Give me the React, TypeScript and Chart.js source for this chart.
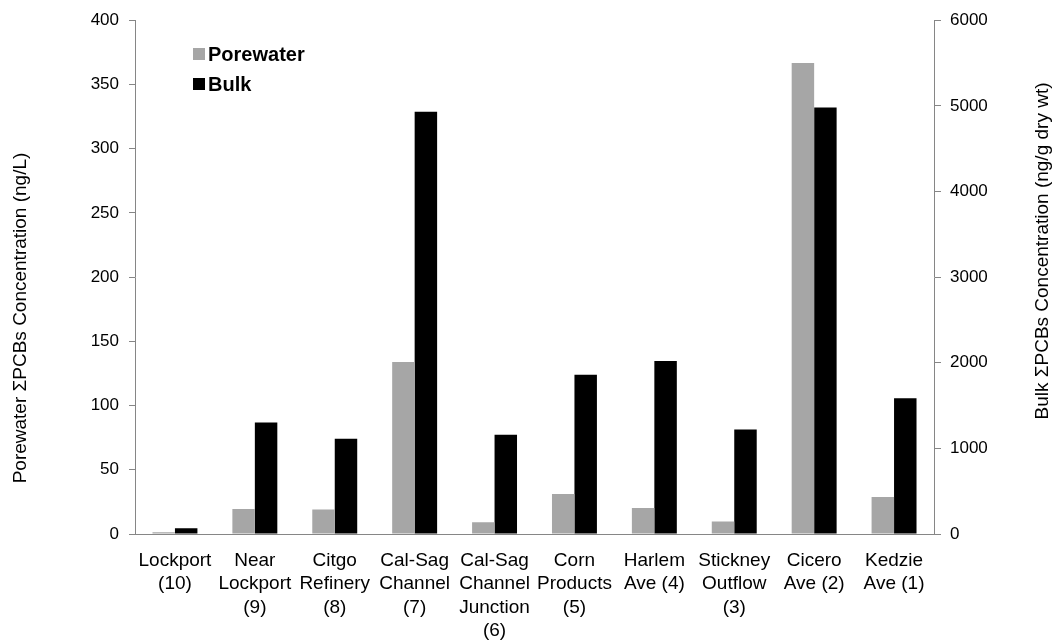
import React, { useEffect, useRef } from "react";
import { Chart, registerables } from "chart.js";

Chart.register(...registerables);

const categories: string[][] = [
  ["Lockport", "(10)"],
  ["Near", "Lockport", "(9)"],
  ["Citgo", "Refinery", "(8)"],
  ["Cal-Sag", "Channel", "(7)"],
  ["Cal-Sag", "Channel", "Junction", "(6)"],
  ["Corn", "Products", "(5)"],
  ["Harlem", "Ave (4)"],
  ["Stickney", "Outflow", "(3)"],
  ["Cicero", "Ave (2)"],
  ["Kedzie", "Ave (1)"],
];

const porewater: number[] = [1.3, 19.4, 19.1, 134, 9.1, 31.2, 20.2, 9.8, 366.7, 28.9];
const bulk: number[] = [66, 1302, 1113, 4930, 1159, 1860, 2020, 1221, 4980, 1585];

const seriesNames = ["Porewater", "Bulk"];
const seriesColors = ["#A6A6A6", "#000000"];
const leftTitle = "Porewater ΣPCBs Concentration (ng/L)";
const rightTitle = "Bulk ΣPCBs Concentration (ng/g dry wt)";

const FONT = '"Liberation Sans", Arial, sans-serif';
const AXIS_GRAY = "#868686";

const overlayPlugin = {
  id: "overlay",
  afterDraw(chart: any) {
    const ctx = chart.ctx as CanvasRenderingContext2D;
    ctx.save();
    ctx.fillStyle = "#000";
    ctx.font = `19px ${FONT}`;
    ctx.textAlign = "center";
    ctx.textBaseline = "middle";
    ctx.save();
    ctx.translate(21, 318);
    ctx.rotate(-Math.PI / 2);
    ctx.fillText(leftTitle, 0, 0);
    ctx.restore();
    ctx.save();
    ctx.translate(1043, 251);
    ctx.rotate(-Math.PI / 2);
    ctx.fillText(rightTitle, 0, 0);
    ctx.restore();
    ctx.font = `bold 20px ${FONT}`;
    ctx.textAlign = "left";
    const ys = [54, 84];
    seriesNames.forEach((n, i) => {
      ctx.fillStyle = seriesColors[i];
      ctx.fillRect(193, ys[i] - 6, 12, 12);
      ctx.fillStyle = "#000";
      ctx.fillText(n, 208, ys[i] + 1);
    });
    ctx.restore();
  },
};

export default function App() {
  const ref = useRef<HTMLCanvasElement | null>(null);
  useEffect(() => {
    if (!ref.current) return;
    const chart = new Chart(ref.current, {
      type: "bar",
      data: {
        labels: categories as any,
        datasets: [
          {
            label: seriesNames[0],
            data: porewater,
            backgroundColor: seriesColors[0],
            yAxisID: "y",
            categoryPercentage: 0.5625,
            barPercentage: 1,
          },
          {
            label: seriesNames[1],
            data: bulk,
            backgroundColor: seriesColors[1],
            yAxisID: "y1",
            categoryPercentage: 0.5625,
            barPercentage: 1,
          },
        ],
      },
      plugins: [overlayPlugin],
      options: {
        animation: false,
        responsive: false,
        devicePixelRatio: 1,
        layout: { padding: { top: 18, left: 0, right: 0, bottom: 0 } },
        plugins: {
          legend: { display: false },
          tooltip: { enabled: false },
        },
        scales: {
          x: {
            grid: { display: false },
            border: { display: true, color: AXIS_GRAY, width: 1 },
            ticks: {
              autoSkip: false,
              maxRotation: 0,
              minRotation: 0,
              padding: 7,
              color: "#000",
              font: { family: FONT, size: 19, lineHeight: 1.23 },
            },
            afterFit(scale: any) {
              scale.height = 641 - 534;
            },
          },
          y: {
            position: "left",
            min: 0,
            max: 400,
            ticks: {
              stepSize: 50,
              padding: 10,
              color: "#000",
              font: { family: FONT, size: 17 },
              callback: (v: any) => String(v),
            },
            grid: {
              drawOnChartArea: false,
              drawTicks: true,
              tickLength: 6,
              color: AXIS_GRAY,
            },
            border: { display: true, color: AXIS_GRAY, width: 1 },
            afterFit(scale: any) {
              scale.width = 135;
            },
          },
          y1: {
            position: "right",
            min: 0,
            max: 6000,
            ticks: {
              stepSize: 1000,
              padding: 9,
              color: "#000",
              font: { family: FONT, size: 17 },
              callback: (v: any) => String(v),
            },
            grid: {
              drawOnChartArea: false,
              drawTicks: true,
              tickLength: 7,
              color: AXIS_GRAY,
            },
            border: { display: true, color: AXIS_GRAY, width: 1 },
            afterFit(scale: any) {
              scale.width = 1059 - 934;
            },
          },
        },
      },
    });
    return () => chart.destroy();
  }, []);
  return (
    <div style={{ position: "absolute", left: 0, top: 0, width: 1059, height: 641, background: "#fff" }}>
      <canvas ref={ref} width={1059} height={641} />
    </div>
  );
}
